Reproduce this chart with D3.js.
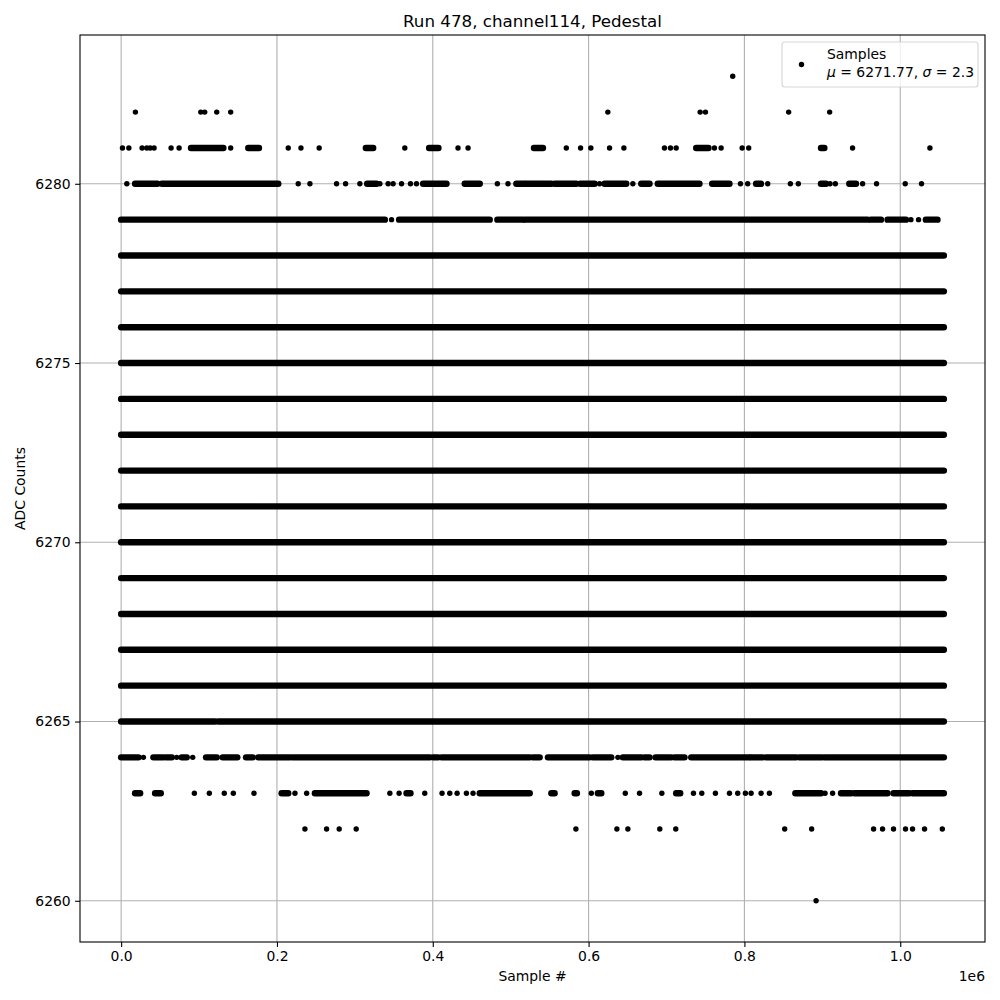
<!DOCTYPE html>
<html><head><meta charset="utf-8">
<script src="https://cdn.jsdelivr.net/npm/d3@7"></script>
<style>body{margin:0;background:#fff} svg text{font-family:"DejaVu Sans",sans-serif;fill:#000}</style>
</head><body><svg id="c" width="1000" height="1000"></svg>
<script>
// ---- text ----
const title = "Run 478, channel114, Pedestal";
const xLabel = "Sample #";
const yLabel = "ADC Counts";
const xOffsetLabel = "1e6";
const legendLabel = "Samples";
const meanValue = 6271.77;
const sigmaValue = 2.3;

// ---- ticks ----
const xTicks = [0.0, 0.2, 0.4, 0.6, 0.8, 1.0];      // units of 1e6 samples
const yTicks = [6260, 6265, 6270, 6275, 6280];

// ---- sample range (units of 1e6) ----
const sampleMin = 0;
const sampleMax = 1.056;

// ---- samples per ADC value: a number = isolated sample, [a, b] = densely filled stretch ----
const adc6283 = [0.785];
const adc6282 = [0.0183, 0.1022, 0.1073, 0.1227, 0.1406, 0.6247, 0.7432, 0.7500, 0.8568, 0.9094];
const adc6281 = [0.0017, 0.0099, 0.0269, 0.0329, 0.0372, 0.0423, 0.0641, 0.0744, [0.0897, 0.1312], 0.1406,
  [0.1632, 0.1769], 0.2145, 0.2308, 0.2542, [0.3141, 0.3235], 0.3641, [0.3953, 0.4073], 0.4324, 0.4453,
  [0.5299, 0.5414], 0.5714, 0.5897, 0.6029, 0.6269, 0.6453, 0.6974, 0.7051, 0.7124, [0.7381, 0.7538],
  0.7615, 0.7701, 0.7971, 0.8055, [0.8983, 0.9026], 0.9388, 1.0381];
const adc6280 = [0.0073, [0.0179, 0.0465], [0.0522, 0.2017], 0.2273, 0.2423, 0.2765, 0.2881, 0.3064,
  [0.3158, 0.3278], 0.3321, 0.3427, 0.3491, 0.3599, 0.3714, 0.3791, [0.3876, 0.4176], [0.4410, 0.4603],
  0.4829, 0.4965, [0.5073, 0.5179], [0.5201, 0.5522], [0.5564, 0.5842], [0.5894, 0.6077], 0.6141,
  [0.6205, 0.6483], 0.6568, [0.6676, 0.6782], [0.6888, 0.7423], [0.7586, 0.7808], 0.7949, 0.8042,
  [0.8150, 0.8214], 0.8299, 0.8590, 0.8692, [0.8983, 0.9047], 0.9099, 0.9167, [0.9346, 0.9432], 0.9517,
  0.9696, 1.0064, 1.0273];
const adc6279 = [[0, 0.3385], 0.3471, [0.3568, 0.4731], [0.4829, 0.5158], [0.5188, 0.9581], [0.9624, 0.9753],
  [0.9837, 1.0073], 1.0137, 1.0235, [1.0329, 1.0478]];
const denseValues = [6266, 6267, 6268, 6269, 6270, 6271, 6272, 6273, 6274, 6275, 6276, 6277, 6278];
const adc6265 = [[0, 0.1205], [0.1247, 1.056]];
const adc6264 = [[0, 0.0222], 0.0286, [0.0414, 0.0542], [0.0577, 0.0650], 0.0714, [0.0778, 0.0842], 0.0919,
  [0.1090, 0.1227], [0.1304, 0.1491], [0.1603, 0.1688], [0.1760, 0.2167], [0.2201, 0.3962], [0.4004, 0.4068],
  [0.4112, 0.5244], [0.5286, 0.5372], [0.5478, 0.6013], [0.6055, 0.6291], 0.6376, [0.6440, 0.6676],
  [0.6718, 0.6782], [0.6859, 0.7060], [0.7103, 0.7231], [0.7317, 0.8064], [0.8086, 0.8235], [0.8278, 0.8663],
  [0.8705, 0.8991], [0.9026, 1.056]];
const adc6263 = [[0.0179, 0.0244], [0.0436, 0.0509], 0.0940, 0.1132, 0.1324, 0.1440, 0.1705, [0.2060, 0.2145],
  0.2231, 0.2381, [0.2487, 0.3150], 0.3449, 0.3568, [0.3663, 0.3714], 0.3897, 0.4119, 0.4218, 0.4312, 0.4432,
  0.4517, [0.4603, 0.5244], [0.5522, 0.5564], [0.5821, 0.5850], 0.6035, [0.6119, 0.6163], 0.6471, 0.6654,
  0.6940, [0.7124, 0.7176], 0.7346, 0.7453, 0.7628, 0.7808, 0.7914, 0.8013, 0.8086, 0.8214, 0.8321,
  [0.8654, 0.8983], 0.9035, 0.9132, [0.9240, 0.9368], [0.9410, 0.9837], [0.9914, 1.0115], [1.0158, 1.056]];
const adc6262 = [0.2359, 0.2637, 0.2799, 0.3017, 0.5837, 0.6363, 0.6504, 0.6914, 0.7119, 0.8517, 0.8863,
  0.9658, 0.9773, 0.9914, 1.0068, 1.0158, 1.0312, 1.054];
const adc6260 = [0.892];

// ---- assemble ----
const rows = [
  {adc: 6283, s: adc6283}, {adc: 6282, s: adc6282}, {adc: 6281, s: adc6281}, {adc: 6280, s: adc6280},
  {adc: 6279, s: adc6279},
  ...denseValues.map(v => ({adc: v, s: [[sampleMin, sampleMax]]})),
  {adc: 6265, s: adc6265}, {adc: 6264, s: adc6264}, {adc: 6263, s: adc6263},
  {adc: 6262, s: adc6262}, {adc: 6260, s: adc6260}
];
const segs = [];
rows.forEach(r => r.s.forEach(it => {
  const a = Array.isArray(it) ? it[0] : it, b = Array.isArray(it) ? it[1] : it;
  segs.push({adc: r.adc, a, b, run: Array.isArray(it)});
}));

// ---- layout ----
const L = 80, R = 985, T = 35, B = 942;
const allAdc = rows.map(r => r.adc);
const yMin = d3.min(allAdc), yMax = d3.max(allAdc);
const xm = (sampleMax - sampleMin) * 0.05, ym = (yMax - yMin) * 0.05;
const x = d3.scaleLinear().domain([sampleMin - xm, sampleMax + xm]).range([L, R]);
const y = d3.scaleLinear().domain([yMin - ym, yMax + ym]).range([B, T]);

const svg = d3.select("#c");
svg.append("rect").attr("width", 1000).attr("height", 1000).attr("fill", "#fff");
svg.append("defs").append("clipPath").attr("id", "clip")
  .append("rect").attr("x", L).attr("y", T).attr("width", R - L).attr("height", B - T);

// grid
const grid = svg.append("g").attr("stroke", "#b0b0b0").attr("stroke-width", 1.1);
grid.selectAll(".gx").data(xTicks).join("line")
  .attr("x1", d => x(d)).attr("x2", d => x(d)).attr("y1", T).attr("y2", B);
grid.selectAll(".gy").data(yTicks).join("line")
  .attr("y1", d => y(d)).attr("y2", d => y(d)).attr("x1", L).attr("x2", R);

// samples
const r = 2.7;
const rr = d => d.run ? 3.2 : r;
svg.append("g").attr("clip-path", "url(#clip)").selectAll("rect").data(segs).join("rect")
  .attr("x", d => x(d.a) - rr(d)).attr("width", d => x(d.b) - x(d.a) + 2 * rr(d))
  .attr("y", d => y(d.adc) - rr(d)).attr("height", d => 2 * rr(d))
  .attr("rx", d => rr(d)).attr("ry", d => rr(d)).attr("fill", "#000");

// axes
const xAxis = d3.axisBottom(x).tickValues(xTicks).tickFormat(d3.format(".1f")).tickSize(4.9).tickPadding(4.4);
const yAxis = d3.axisLeft(y).tickValues(yTicks).tickFormat(d3.format("d")).tickSize(4.9).tickPadding(4.4);
const gx = svg.append("g").attr("transform", `translate(0,${B})`).call(xAxis);
const gy = svg.append("g").attr("transform", `translate(${L},0)`).call(yAxis);
[gx, gy].forEach(g => {
  g.select(".domain").remove();
  g.selectAll(".tick line").attr("stroke", "#000").attr("stroke-width", 1.1);
  g.selectAll(".tick text").attr("font-size", 13.9).attr("font-family", "DejaVu Sans");
});
svg.append("rect").attr("x", L).attr("y", T).attr("width", R - L).attr("height", B - T)
  .attr("fill", "none").attr("stroke", "#000").attr("stroke-width", 1.1);

// labels
svg.append("text").attr("x", (L + R) / 2).attr("y", 27).attr("text-anchor", "middle")
  .attr("font-size", 16.7).text(title);
svg.append("text").attr("x", (L + R) / 2).attr("y", 981).attr("text-anchor", "middle")
  .attr("font-size", 13.9).text(xLabel);
svg.append("text").attr("x", R).attr("y", 981).attr("text-anchor", "end")
  .attr("font-size", 13.9).text(xOffsetLabel);
svg.append("text").attr("transform", `translate(25,${(T + B) / 2}) rotate(-90)`).attr("text-anchor", "middle")
  .attr("font-size", 13.9).text(yLabel);

// legend
const lg = svg.append("g");
lg.append("rect").attr("x", 782).attr("y", 42).attr("width", 196).attr("height", 45).attr("rx", 3)
  .attr("fill", "#fff").attr("fill-opacity", 0.8).attr("stroke", "#cccccc").attr("stroke-opacity", 0.8)
  .attr("stroke-width", 1.1);
lg.append("circle").attr("cx", 801.5).attr("cy", 64.5).attr("r", r).attr("fill", "#000");
lg.append("text").attr("x", 827).attr("y", 59).attr("font-size", 13.9).text(legendLabel);
const t2 = lg.append("text").attr("x", 827).attr("y", 76.5).attr("font-size", 13.9);
t2.append("tspan").attr("font-style", "italic").text("μ");
t2.append("tspan").text(` = ${meanValue.toFixed(2)}, `);
t2.append("tspan").attr("font-style", "italic").text("σ");
t2.append("tspan").text(` = ${sigmaValue.toFixed(1)}`);
</script></body></html>
